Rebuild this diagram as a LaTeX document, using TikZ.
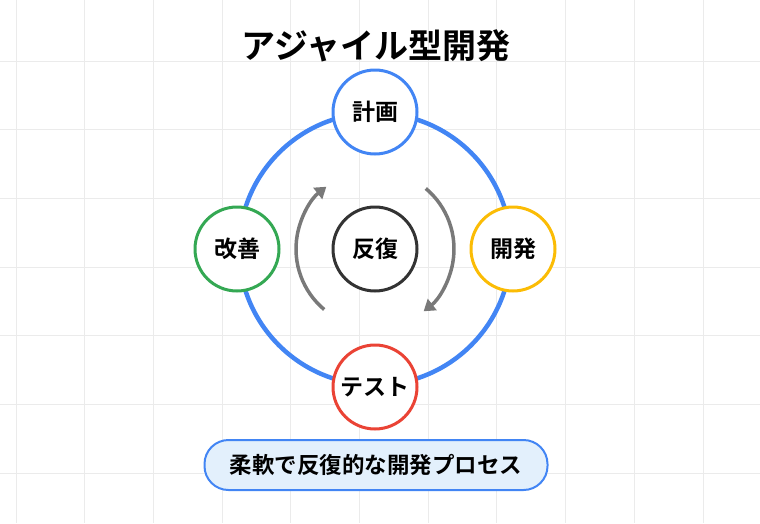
\documentclass[tikz,border=0pt]{standalone}
\usepackage{fontspec}
\setmainfont{Noto Sans CJK JP}[BoldFont={* Bold}]
\usetikzlibrary{arrows.meta}
\definecolor{gblue}{HTML}{4285F4}
\definecolor{ggreen}{HTML}{34A853}
\definecolor{gyellow}{HTML}{FBBC05}
\definecolor{gred}{HTML}{EA4335}
\definecolor{pill}{HTML}{E3F0FC}
\begin{document}
\begin{tikzpicture}[x=1pt,y=-1pt,
  stage/.style={circle,draw=#1,line width=3pt,fill=white,minimum size=84pt,inner sep=0pt,font=\bfseries\fontsize{23}{26}\selectfont},
  cyc/.style={draw=gray!95!black,line width=3.5pt,-{Triangle[length=11pt,width=14pt]}}]
\useasboundingbox (0,0) rectangle (760,523);
\foreach \i in {0,...,10} \draw[black!8,line width=1pt] (16+68.7*\i,0) -- (16+68.7*\i,523);
\foreach \j in {0,...,7} \draw[black!8,line width=1pt] (0,-7.7+68.7*\j) -- (760,-7.7+68.7*\j);
\node (title) at (376,46) {\bfseries\fontsize{34}{40}\selectfont アジャイル型開発};
\node[circle,minimum size=272pt,draw=gblue,line width=4.5pt] (ring) at (375,249) {};
\node[stage=gblue] (plan) at (375,112) {計画};
\node[stage=gyellow] (dev) at (513,249) {開発};
\node[stage=gred] (test) at (375,387) {テスト};
\node[stage=ggreen] (imp) at (237,249) {改善};
\node[stage=black!80] (rep) at (375,249) {反復};
\draw[cyc] ([shift={(130:79)}]rep.center) arc[start angle=130,end angle=232,radius=79];
\draw[cyc] ([shift={(-50:79)}]rep.center) arc[start angle=-50,end angle=52,radius=79];
\node[draw=gblue,line width=2pt,fill=pill,rounded corners=24pt,minimum width=343pt,minimum height=50pt,font=\bfseries\fontsize{22.5}{26}\selectfont] (note) at (376,465) {柔軟で反復的な開発プロセス};
\end{tikzpicture}
\end{document}
